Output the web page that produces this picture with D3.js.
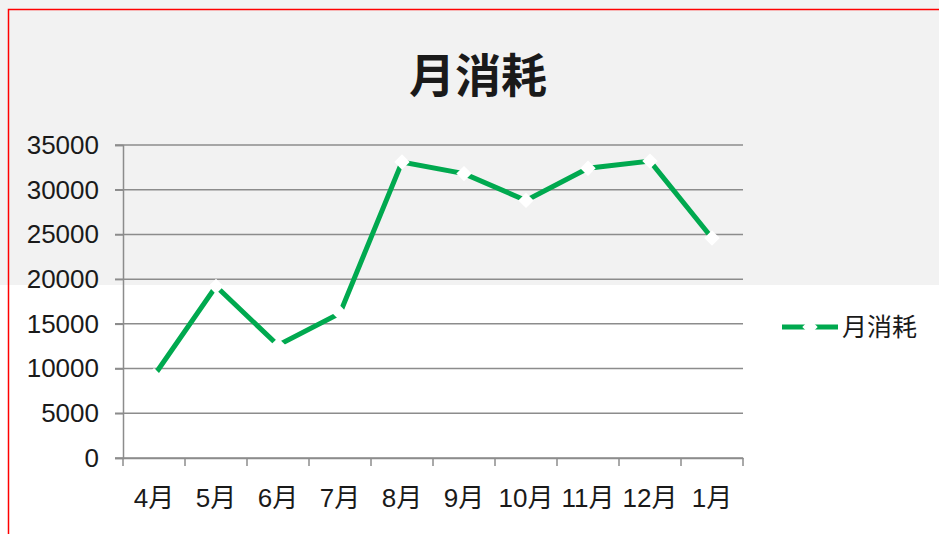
<!DOCTYPE html>
<html>
<head>
<meta charset="utf-8">
<script src="https://cdn.jsdelivr.net/npm/d3@7"></script>
<style>
  body { margin: 0; background: #fff; }
  svg { display: block; }
</style>
</head>
<body>
<div id="chart"></div>
<script>
// chart data
const months = ["4月", "5月", "6月", "7月", "8月", "9月", "10月", "11月", "12月", "1月"];
const consumption = [9200, 19200, 12600, 16200, 33100, 31800, 28800, 32400, 33200, 24600];
const yTicks = [0, 5000, 10000, 15000, 20000, 25000, 30000, 35000];
const seriesName = "月消耗";

const width = 939, height = 534;
const margin = { top: 145, left: 123, right: 196, bottom: 76 };
const green = "#00a94f";

const svg = d3.select("#chart").append("svg")
  .attr("width", width)
  .attr("height", height);

// background: grey band on top, white below
svg.append("rect").attr("x", 0).attr("y", 0).attr("width", width).attr("height", 285).attr("fill", "#f2f2f2");

// red frame (left + top)
svg.append("path")
  .attr("d", `M8.5,${height} L8.5,9.5 L${width},9.5`)
  .attr("fill", "none")
  .attr("stroke", "#ff0000")
  .attr("stroke-width", 1.5);

const x = d3.scaleBand()
  .domain(months)
  .range([margin.left, width - margin.right]);

const y = d3.scaleLinear()
  .domain([0, 35000])
  .range([height - margin.bottom, margin.top]);

// gridlines
svg.append("g")
  .selectAll("line")
  .data(yTicks)
  .enter()
  .append("line")
  .attr("x1", margin.left - 8)
  .attr("x2", width - margin.right)
  .attr("y1", d => y(d))
  .attr("y2", d => y(d))
  .attr("stroke", "#8c8c8c")
  .attr("stroke-width", 1.5);

// y axis
const yAxis = svg.append("g")
  .attr("transform", `translate(${margin.left},0)`)
  .call(d3.axisLeft(y).tickValues(yTicks).tickFormat(d3.format("d")).tickSize(8).tickPadding(16));
yAxis.select(".domain").attr("stroke", "#8c8c8c").attr("stroke-width", 1.5);
yAxis.selectAll(".tick line").attr("stroke", "#8c8c8c").attr("stroke-width", 1.5);
yAxis.selectAll("text")
  .attr("fill", "#1a1a1a")
  .style("font-family", "'Liberation Sans', Arial, sans-serif")
  .style("font-size", "26px");

// x axis with ticks between categories
const xAxis = svg.append("g")
  .attr("transform", `translate(0,${y(0)})`)
  .call(d3.axisBottom(x).tickSize(0).tickPadding(31));
xAxis.select(".domain").attr("stroke", "#8c8c8c").attr("stroke-width", 1.5);
xAxis.selectAll("text")
  .attr("fill", "#1a1a1a")
  .style("font-family", "'Liberation Sans', 'Noto Sans CJK SC', sans-serif")
  .style("font-size", "26px");

const bounds = months.map(m => x(m)).concat([x.range()[1]]);
xAxis.selectAll(".sep")
  .data(bounds)
  .enter()
  .append("line")
  .attr("x1", d => d)
  .attr("x2", d => d)
  .attr("y1", 0)
  .attr("y2", 8)
  .attr("stroke", "#8c8c8c")
  .attr("stroke-width", 1.5);

// line
const line = d3.line()
  .x((d, i) => x(months[i]) + x.bandwidth() / 2)
  .y(d => y(d));

svg.append("path")
  .datum(consumption)
  .attr("d", line)
  .attr("fill", "none")
  .attr("stroke", green)
  .attr("stroke-width", 5)
  .attr("stroke-linejoin", "miter");

// white diamond markers
const diamond = d3.symbol().type(d3.symbolDiamond2).size(150);
svg.append("g")
  .selectAll("path")
  .data(consumption)
  .enter()
  .append("path")
  .attr("d", diamond)
  .attr("transform", (d, i) => `translate(${x(months[i]) + x.bandwidth() / 2},${y(d)})`)
  .attr("fill", "#ffffff");

// title
svg.append("text")
  .attr("x", 478)
  .attr("y", 92)
  .attr("text-anchor", "middle")
  .attr("fill", "#1a1a1a")
  .style("font-family", "'Noto Sans CJK SC', sans-serif")
  .style("font-weight", "bold")
  .style("font-size", "46px")
  .text(seriesName);

// legend
const legend = svg.append("g").attr("transform", "translate(782,327)");
legend.append("line")
  .attr("x1", 0).attr("x2", 56)
  .attr("y1", 0).attr("y2", 0)
  .attr("stroke", green)
  .attr("stroke-width", 5);
legend.append("path")
  .attr("d", diamond)
  .attr("transform", "translate(28,0)")
  .attr("fill", "#ffffff");
legend.append("text")
  .attr("x", 60)
  .attr("y", 9)
  .attr("fill", "#1a1a1a")
  .style("font-family", "'Noto Sans CJK SC', sans-serif")
  .style("font-size", "25px")
  .text(seriesName);
</script>
</body>
</html>
